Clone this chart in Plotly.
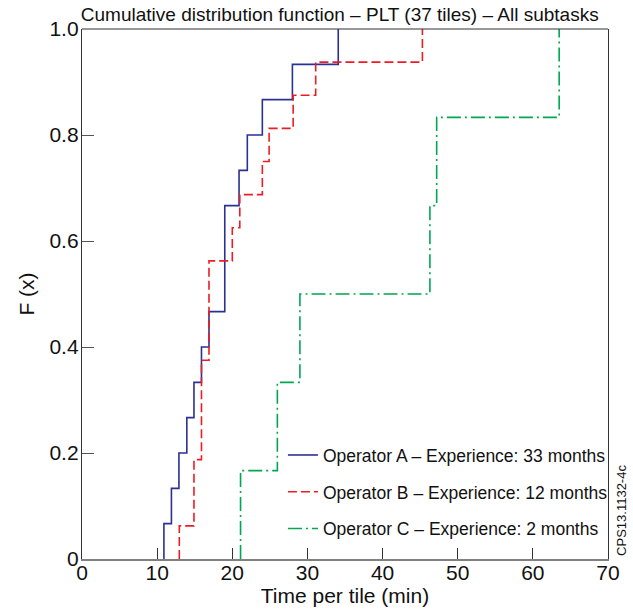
import numpy as np
import plotly.graph_objects as go

# Time per tile (min) for each tile, read from the step positions of the CDF
time_a = [10.9, 11.9, 12.9, 13.95, 14.9, 15.9, 16.9, 19.0, 19.0, 19.0,
          20.9, 22.0, 24.0, 28.0, 34.1]
time_b = [12.95, 14.9, 14.9, 15.9, 15.9, 15.9, 16.9, 16.9, 16.9, 20.0,
          21.0, 24.0, 24.9, 28.1, 31.1, 45.3]
time_c = [21.1, 26.0, 29.0, 46.3, 47.2, 63.5]

names = ["Operator A \u2013 Experience: 33 months",
         "Operator B \u2013 Experience: 12 months",
         "Operator C \u2013 Experience: 2 months"]
x_ticks = [0, 10, 20, 30, 40, 50, 60, 70]
y_ticks = [0, 0.2, 0.4, 0.6, 0.8, 1.0]
y_tick_labels = ["0", "0.2", "0.4", "0.6", "0.8", "1.0"]

FONT = "Liberation Sans, Arial, Helvetica, sans-serif"


def ecdf(samples):
    s = np.sort(np.asarray(samples, dtype=float))
    xs, counts = np.unique(s, return_counts=True)
    F = np.cumsum(counts) / len(s)
    return np.concatenate([[xs[0]], xs]), np.concatenate([[0.0], F])


styles = [
    dict(color="#2B3192", width=1.6, dash="solid"),
    dict(color="#ED1C24", width=1.6, dash="9px,4px"),
    dict(color="#00A651", width=1.6, dash="14px,4px,2px,4px"),
]

fig = go.Figure()
for i, (samples, name, st) in enumerate(zip([time_a, time_b, time_c], names, styles)):
    x, y = ecdf(samples)
    fig.add_trace(go.Scatter(
        x=x, y=y, mode="lines", name=name, legendgroup=f"g{i}",
        line=dict(shape="hv", **st),
    ))

fig.update_layout(
    width=633, height=612,
    margin=dict(l=82, r=25, t=29, b=53, autoexpand=False),
    paper_bgcolor="white", plot_bgcolor="white",
    font=dict(family=FONT, color="#111", size=18),
    title=dict(
        text="Cumulative distribution function \u2013 PLT (37 tiles) \u2013 All subtasks",
        x=0.49, xref="paper", xanchor="center",
        y=1 - 14 / 612, yref="container", yanchor="middle",
        font=dict(size=19, family=FONT, color="#111"),
    ),
    showlegend=True,
    legend=dict(
        x=0.382, y=0.23, xanchor="left", yanchor="top",
        bgcolor="rgba(0,0,0,0)", borderwidth=0,
        font=dict(size=17.5, family=FONT, color="#111"),
        tracegroupgap=11, itemwidth=30,
    ),
)

fig.update_xaxes(
    range=[0, 70], tickvals=x_ticks, ticks="inside", ticklen=11,
    tickcolor="#333", tickwidth=1, showline=True, linecolor="#808080",
    linewidth=1.5, showgrid=False, zeroline=False, automargin=False,
    ticklabelstandoff=-6,
    tickfont=dict(size=21, family=FONT, color="#111"),
    title=dict(text="Time per tile (min)", font=dict(size=21, family=FONT, color="#111"),
               standoff=4),
)
fig.update_yaxes(
    range=[0, 1], tickvals=y_ticks, ticktext=y_tick_labels, ticks="inside",
    ticklen=12, tickcolor="#555", tickwidth=1, showline=True, linecolor="#333",
    linewidth=1.2, mirror=True, showgrid=False, zeroline=False, automargin=False,
    ticklabelstandoff=-2,
    tickfont=dict(size=21, family=FONT, color="#111"),
    title=dict(text="F (x)", font=dict(size=21, family=FONT, color="#111"),
               standoff=9),
)

# top frame line
fig.add_shape(type="line", xref="paper", yref="paper", x0=0, x1=1, y0=1, y1=1,
              line=dict(color="#333", width=1.2))

fig.add_annotation(
    text="CPS13.1132-4c", textangle=-90, xref="paper", yref="paper",
    x=1.0266, y=0.003, xanchor="center", yanchor="bottom", showarrow=False,
    font=dict(size=13, family=FONT, color="#111"),
)

fig.write_html(
    "out.html",
    config={"displayModeBar": False, "staticPlot": True},
    post_script="document.body.style.margin='0';",
)
